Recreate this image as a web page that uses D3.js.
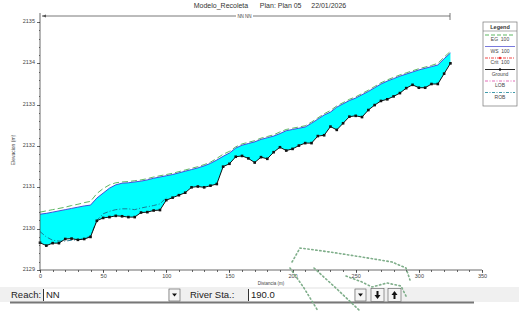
<!DOCTYPE html>
<html lang="es">
<head>
    <meta charset="UTF-8">
    <title>Modelo_Recoleta - perfil</title>
    <script src="https://d3js.org/d3.v7.min.js"></script>
    <style>
        body { margin: 0; padding: 0; background: #fff; }
        svg { display: block; font-family: "Liberation Sans", Arial, sans-serif; }
        .axis path, .axis line { stroke: #444; stroke-width: 0.8; shape-rendering: crispEdges; }
        .axis text { fill: #444; font-size: 5.5px; }
    </style>
</head>
<body>
<svg width="519" height="311"></svg>
<script>
    const stations = [0, 5, 10, 15, 20, 25, 30, 35, 40, 45, 50, 55, 60, 65, 70, 75, 80, 85, 90, 95,
        100, 105, 110, 115, 120, 125, 130, 135, 140, 145, 150, 155, 160, 165, 170, 175, 180, 185, 190, 195,
        200, 205, 210, 215, 220, 225, 230, 235, 240, 245, 250, 255, 260, 265, 270, 275, 280, 285, 290, 295,
        300, 305, 310, 315, 320, 325];
    const ground = [2129.66, 2129.59, 2129.65, 2129.65, 2129.75, 2129.76, 2129.73, 2129.75, 2129.80, 2130.19,
        2130.26, 2130.28, 2130.31, 2130.30, 2130.28, 2130.28, 2130.39, 2130.40, 2130.44, 2130.45,
        2130.69, 2130.75, 2130.81, 2130.87, 2131.00, 2131.02, 2131.00, 2131.04, 2131.08, 2131.50,
        2131.57, 2131.74, 2131.76, 2131.70, 2131.60, 2131.73, 2131.69, 2131.85, 2131.97, 2131.89,
        2131.93, 2132.01, 2132.07, 2132.07, 2132.24, 2132.26, 2132.47, 2132.39, 2132.55, 2132.71,
        2132.73, 2132.70, 2132.87, 2132.99, 2133.09, 2133.13, 2133.20, 2133.28, 2133.40, 2133.48,
        2133.41, 2133.41, 2133.50, 2133.50, 2133.75, 2134.00];
    const ws = [2130.35, 2130.37, 2130.40, 2130.43, 2130.46, 2130.49, 2130.52, 2130.55, 2130.57, 2130.74,
        2130.86, 2130.98, 2131.06, 2131.10, 2131.11, 2131.13, 2131.15, 2131.18, 2131.22, 2131.25,
        2131.28, 2131.31, 2131.35, 2131.39, 2131.43, 2131.47, 2131.52, 2131.58, 2131.66, 2131.75,
        2131.83, 2131.95, 2132.02, 2132.06, 2132.10, 2132.16, 2132.20, 2132.24, 2132.30, 2132.37,
        2132.40, 2132.43, 2132.46, 2132.55, 2132.65, 2132.75, 2132.82, 2132.94, 2133.02, 2133.10,
        2133.16, 2133.24, 2133.32, 2133.41, 2133.50, 2133.57, 2133.63, 2133.69, 2133.74, 2133.79,
        2133.84, 2133.88, 2133.92, 2133.96, 2134.11, 2134.25];
    const eg = [2130.40, 2130.43, 2130.46, 2130.49, 2130.52, 2130.56, 2130.59, 2130.63, 2130.66, 2130.85,
        2130.97, 2131.06, 2131.11, 2131.13, 2131.14, 2131.16, 2131.18, 2131.21, 2131.25, 2131.28,
        2131.31, 2131.34, 2131.38, 2131.42, 2131.46, 2131.50, 2131.55, 2131.61, 2131.70, 2131.80,
        2131.87, 2131.98, 2132.05, 2132.09, 2132.13, 2132.19, 2132.23, 2132.27, 2132.34, 2132.40,
        2132.43, 2132.46, 2132.49, 2132.58, 2132.68, 2132.78, 2132.86, 2132.97, 2133.05, 2133.13,
        2133.19, 2133.27, 2133.35, 2133.44, 2133.53, 2133.60, 2133.66, 2133.72, 2133.77, 2133.82,
        2133.87, 2133.91, 2133.95, 2134.00, 2134.15, 2134.29];
    const critSta = [0, 5, 10, 15, 20, 25, 30, 35, 40, 45, 50, 55, 60, 65, 70, 75, 80, 85, 90, 95, 100];
    const crit = [2129.93, 2129.80, 2129.72, 2129.70, 2129.70, 2129.72, 2129.73, 2129.76, 2129.82, 2130.20,
        2130.36, 2130.42, 2130.46, 2130.48, 2130.48, 2130.46, 2130.50, 2130.53, 2130.56, 2130.60, 2130.75];

    const xTicks = [0, 50, 100, 150, 200, 250, 300, 350];
    const yTicks = [2129, 2130, 2131, 2132, 2133, 2134, 2135];
    const legendItems = ["EG  100", "WS  100", "Crit  100", "Ground", "LOB", "ROB"];

    const svg = d3.select("svg");

    // escalas
    const x = d3.scaleLinear().domain([0, 350]).range([40, 482]);
    const y = d3.scaleLinear().domain([2129, 2135]).range([270, 22]);

    const prof = stations.map((s, i) => ({ s, g: ground[i], w: ws[i], e: eg[i] }));

    // titulo
    svg.append("text").attr("x", 270).attr("y", 8).attr("text-anchor", "middle")
        .attr("font-size", 7).attr("fill", "#333")
        .attr("xml:space", "preserve")
        .text("Modelo_Recoleta      Plan: Plan 05     22/01/2026");

    // agua (relleno entre fondo y WS)
    svg.append("path").datum(prof)
        .attr("fill", "#00ffff")
        .attr("d", d3.area().x(d => x(d.s)).y0(d => y(d.g)).y1(d => y(d.w)));

    // EG
    svg.append("path").datum(prof)
        .attr("fill", "none").attr("stroke", "#4caf50").attr("stroke-width", 0.9)
        .attr("stroke-dasharray", "6,3")
        .attr("d", d3.line().x(d => x(d.s)).y(d => y(d.e)));

    // crit
    svg.append("path").datum(critSta.map((s, i) => [s, crit[i]]))
        .attr("fill", "none").attr("stroke", "#1a6f8a").attr("stroke-width", 0.9)
        .attr("stroke-dasharray", "5,2,1,2")
        .attr("d", d3.line().x(d => x(d[0])).y(d => y(d[1])));

    // WS
    svg.append("path").datum(prof)
        .attr("fill", "none").attr("stroke", "#3b3bd6").attr("stroke-width", 0.9)
        .attr("d", d3.line().x(d => x(d.s)).y(d => y(d.w)));

    // fondo
    svg.append("path").datum(prof)
        .attr("fill", "none").attr("stroke", "#111").attr("stroke-width", 1)
        .attr("d", d3.line().x(d => x(d.s)).y(d => y(d.g)));
    svg.append("g").selectAll("rect").data(prof).enter().append("rect")
        .attr("x", d => x(d.s) - 1.3).attr("y", d => y(d.g) - 1.3)
        .attr("width", 2.6).attr("height", 2.6).attr("fill", "#111");

    // ejes
    const yAxis = svg.append("g").attr("class", "axis").attr("transform", "translate(40,0)")
        .call(d3.axisLeft(y).tickValues(yTicks).tickFormat(d3.format("d")).tickSize(3).tickPadding(2));
    yAxis.select(".domain").remove();
    yAxis.selectAll("text").attr("dy", "0.1em");
    svg.append("g").attr("class", "axis").attr("transform", "translate(40,0)")
        .call(d3.axisLeft(y).tickValues(d3.range(2129, 2135.01, 0.2)).tickFormat("").tickSize(1.5))
        .select(".domain").remove();
    svg.append("line").attr("x1", 40).attr("x2", 40).attr("y1", 13).attr("y2", 270)
        .attr("stroke", "#444").attr("stroke-width", 0.8);

    const xAxis = svg.append("g").attr("class", "axis").attr("transform", "translate(0,270)")
        .call(d3.axisBottom(x).tickValues(xTicks).tickSize(3).tickPadding(1.5));
    xAxis.select(".domain").remove();
    svg.append("g").attr("class", "axis").attr("transform", "translate(0,270)")
        .call(d3.axisBottom(x).tickValues(d3.range(0, 351, 10)).tickFormat("").tickSize(1.5))
        .select(".domain").remove();
    svg.append("line").attr("x1", 40).attr("x2", 482).attr("y1", 270).attr("y2", 270)
        .attr("stroke", "#444").attr("stroke-width", 0.8);

    svg.append("text").attr("x", 271).attr("y", 285).attr("text-anchor", "middle")
        .attr("font-size", 4.5).attr("fill", "#444").text("Distancia (m)");
    svg.append("text").attr("transform", "translate(15,150) rotate(-90)").attr("text-anchor", "middle")
        .attr("font-size", 5).attr("fill", "#444").text("Elevacion (m)");

    // linea del tramo arriba
    svg.append("line").attr("x1", 42).attr("x2", 236).attr("y1", 16).attr("y2", 16).attr("stroke", "#555").attr("stroke-width", 0.8);
    svg.append("line").attr("x1", 253).attr("x2", 450).attr("y1", 16).attr("y2", 16).attr("stroke", "#555").attr("stroke-width", 0.8);
    svg.append("path").attr("d", "M42,16 l4,-1.5 l0,3 z").attr("fill", "#555");
    svg.append("line").attr("x1", 450).attr("x2", 450).attr("y1", 13).attr("y2", 20).attr("stroke", "#555").attr("stroke-width", 0.8);
    svg.append("text").attr("x", 244.5).attr("y", 18).attr("text-anchor", "middle")
        .attr("font-size", 4.5).attr("fill", "#444").text("NN NN");

    // leyenda
    const lg = svg.append("g").attr("transform", "translate(483,22)");
    lg.append("rect").attr("width", 34).attr("height", 84).attr("fill", "#fff").attr("stroke", "#777").attr("stroke-width", 0.7);
    lg.append("line").attr("x1", 0).attr("x2", 34).attr("y1", 9).attr("y2", 9).attr("stroke", "#777").attr("stroke-width", 0.6);
    lg.append("text").attr("x", 17).attr("y", 6.8).attr("text-anchor", "middle").attr("font-size", 5.5)
        .attr("font-weight", "bold").attr("fill", "#333").text("Legend");
    const lstyle = [
        { c: "#4caf50", d: "4,2" }, { c: "#6a6ad8", d: null }, { c: "#e33", d: "3,1,1,1" },
        { c: "#111", d: null }, { c: "#e05bb0", d: "3,1.5,1,1.5" }, { c: "#2a8fa0", d: "3,1.5,1,1.5" }];
    legendItems.forEach((t, i) => {
        const yy = 13 + i * 11.5;
        lg.append("line").attr("x1", 2).attr("x2", 32).attr("y1", yy).attr("y2", yy)
            .attr("stroke", lstyle[i].c).attr("stroke-width", 0.9).attr("stroke-dasharray", lstyle[i].d);
        if (i === 2 || i === 3) lg.append("circle").attr("cx", 17).attr("cy", yy).attr("r", 1.2).attr("fill", lstyle[i].c);
        lg.append("text").attr("x", 17).attr("y", yy + 6).attr("text-anchor", "middle")
            .attr("font-size", 5).attr("fill", "#444").attr("xml:space", "preserve").text(t);
    });

    // barra inferior (Reach / River Sta.)
    const tb = svg.append("g");
    tb.append("rect").attr("x", 0).attr("y", 287).attr("width", 519).attr("height", 15).attr("fill", "#f0f0f0");
    tb.append("line").attr("x1", 10).attr("x2", 474).attr("y1", 302.5).attr("y2", 302.5).attr("stroke", "#777").attr("stroke-width", 2);
    tb.append("text").attr("x", 11).attr("y", 298).attr("font-size", 9.5).attr("fill", "#222").text("Reach:");
    tb.append("rect").attr("x", 43).attr("y", 289).attr("width", 125).attr("height", 12).attr("fill", "#fff");
    tb.append("line").attr("x1", 43.5).attr("x2", 43.5).attr("y1", 289).attr("y2", 301).attr("stroke", "#333");
    tb.append("text").attr("x", 46).attr("y", 298).attr("font-size", 9.5).attr("fill", "#222").text("NN");
    tb.append("text").attr("x", 190).attr("y", 298).attr("font-size", 9.5).attr("fill", "#222").text("River Sta.:");
    tb.append("rect").attr("x", 248).attr("y", 289).attr("width", 106).attr("height", 12).attr("fill", "#fff");
    tb.append("line").attr("x1", 248.5).attr("x2", 248.5).attr("y1", 289).attr("y2", 301).attr("stroke", "#333");
    tb.append("text").attr("x", 251).attr("y", 298).attr("font-size", 9.5).attr("fill", "#222").text("190.0");
    [169, 355].forEach(bx => {
        tb.append("rect").attr("x", bx).attr("y", 289).attr("width", 11).attr("height", 12)
            .attr("fill", "#f4f4f4").attr("stroke", "#555").attr("stroke-width", 0.6);
        tb.append("path").attr("d", `M${bx + 3},${293.5} l5,0 l-2.5,3 z`).attr("fill", "#111");
    });
    [[371, 1], [388, -1]].forEach(([bx, dir]) => {
        tb.append("rect").attr("x", bx).attr("y", 288.5).attr("width", 13).attr("height", 13)
            .attr("fill", "#f4f4f4").attr("stroke", "#555").attr("stroke-width", 0.6);
        const cx = bx + 6.5, cy = 295;
        tb.append("path").attr("d", dir > 0
            ? `M${cx - 1},${cy - 4} h2 v4 h2 l-3,4 l-3,-4 h2 z`
            : `M${cx - 1},${cy + 4} h2 v-4 h2 l-3,-4 l-3,4 h2 z`).attr("fill", "#111");
    });

    // trazos punteados verdes sobre la imagen
    const dots = [
        [[292, 262], [300, 248], [330, 252], [362, 257], [392, 262], [406, 268], [410, 280]],
        [[290, 268], [304, 288], [318, 311]],
        [[314, 268], [338, 290], [360, 311]],
        [[346, 276], [362, 282], [372, 287], [387, 283], [401, 286], [407, 298]]
    ];
    dots.forEach(p => {
        svg.append("path").datum(p).attr("fill", "none").attr("stroke", "#7fae8a")
            .attr("stroke-width", 1.6).attr("stroke-dasharray", "1.4,2.6").attr("stroke-linecap", "round")
            .attr("d", d3.line()(p));
    });
</script>
</body>
</html>
